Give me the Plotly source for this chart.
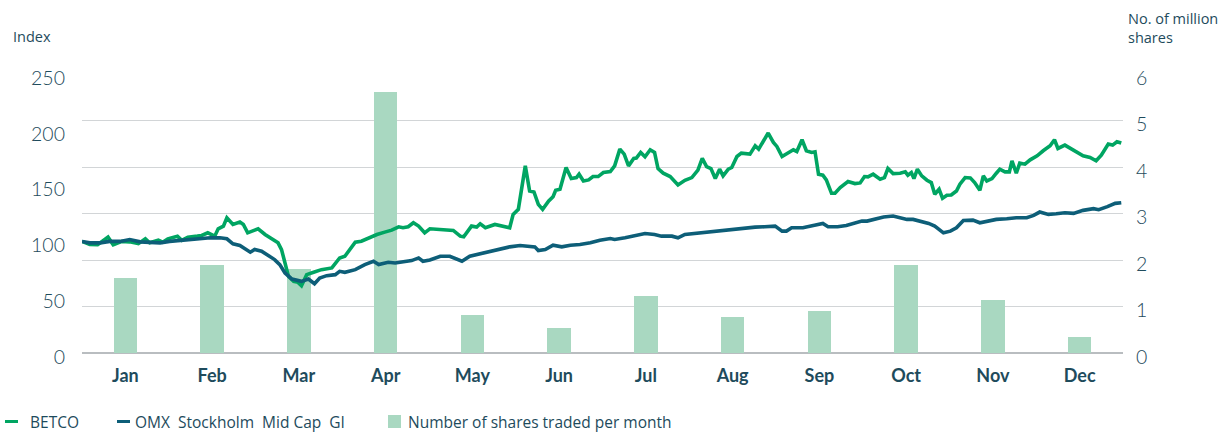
import plotly.graph_objects as go

# Months and monthly traded volume (million shares)
months = ["Jan", "Feb", "Mar", "Apr", "May", "Jun", "Jul", "Aug", "Sep", "Oct", "Nov", "Dec"]
shares_traded = [1.62, 1.89, 1.81, 5.62, 0.82, 0.54, 1.23, 0.78, 0.90, 1.89, 1.14, 0.34]

# BETCO share price index (start of year = 100); time in months since 1 Jan
betco_t = [0.00, 0.09, 0.18, 0.30, 0.36, 0.46, 0.55, 0.65, 0.73, 0.78, 0.88, 0.93, 0.99,
           1.10, 1.15, 1.22, 1.33, 1.38, 1.45, 1.53, 1.57, 1.63, 1.67, 1.74, 1.82, 1.86,
           1.91, 1.97, 2.03, 2.11, 2.19, 2.26, 2.30, 2.34, 2.38, 2.44, 2.49, 2.53, 2.59,
           2.67, 2.76, 2.88, 2.97, 3.03, 3.15, 3.22, 3.34, 3.40, 3.49, 3.57, 3.65, 3.70,
           3.76, 3.82, 3.88, 3.95, 4.01, 4.13, 4.28, 4.36, 4.40, 4.49, 4.55, 4.59, 4.65,
           4.76, 4.84, 4.93, 4.97, 5.03, 5.11, 5.16, 5.21, 5.26, 5.31, 5.38, 5.43, 5.46,
           5.51, 5.58, 5.64, 5.70, 5.73, 5.78, 5.84, 5.89, 5.95, 6.01, 6.09, 6.14, 6.20,
           6.25, 6.30, 6.36, 6.39, 6.44, 6.49, 6.55, 6.60, 6.64, 6.70, 6.78, 6.87, 6.95,
           7.03, 7.10, 7.15, 7.20, 7.25, 7.30, 7.35, 7.39, 7.45, 7.49, 7.55, 7.60, 7.70,
           7.76, 7.80, 7.91, 7.97, 8.01, 8.07, 8.14, 8.20, 8.24, 8.30, 8.35, 8.41, 8.45,
           8.49, 8.54, 8.58, 8.64, 8.68, 8.74, 8.83, 8.91, 8.97, 9.02, 9.06, 9.12, 9.20,
           9.25, 9.29, 9.35, 9.43, 9.49, 9.52, 9.56, 9.59, 9.63, 9.68, 9.74, 9.79, 9.83,
           9.88, 9.92, 9.97, 10.02, 10.08, 10.12, 10.18, 10.24, 10.29, 10.35, 10.39, 10.43,
           10.49, 10.54, 10.58, 10.64, 10.69, 10.72, 10.77, 10.81, 10.87, 10.93, 11.01,
           11.08, 11.16, 11.21, 11.25, 11.33, 11.43, 11.54, 11.62, 11.69, 11.75, 11.83,
           11.88, 11.93, 11.98]
betco = [100.0, 97.2, 97.0, 103.8, 97.0, 100.0, 99.6, 98.0, 102.3, 98.7, 101.0, 99.3, 102.3,
         104.7, 101.0, 103.8, 104.7, 105.3, 107.7, 104.7, 111.3, 113.7, 121.2, 115.2, 117.3, 115.2,
         107.7, 109.2, 111.3, 106.2, 101.7, 98.7, 92.7, 79.2, 68.7, 64.2, 63.3, 60.3, 70.2,
         72.3, 74.7, 76.2, 85.2, 86.7, 99.3, 100.2, 104.7, 106.2, 108.3, 110.1, 113.1, 112.2,
         113.1, 116.7, 113.7, 107.7, 111.3, 110.7, 109.8, 104.7, 104.1, 113.7, 112.8, 115.8, 112.2,
         115.2, 113.7, 112.2, 124.2, 128.7, 167.7, 145.2, 144.3, 133.2, 128.7, 136.2, 140.1, 145.8,
         146.7, 166.2, 156.3, 157.2, 160.2, 154.2, 155.1, 158.1, 158.1, 161.7, 162.6, 167.7, 182.7,
         178.2, 167.7, 174.3, 174.6, 179.7, 175.8, 182.1, 179.7, 165.3, 161.1, 158.1, 150.6, 154.8,
         157.2, 163.8, 174.3, 167.1, 165.3, 156.3, 164.7, 158.7, 164.7, 166.2, 176.1, 179.1, 178.2,
         185.7, 182.7, 197.1, 188.7, 185.1, 176.1, 179.7, 182.1, 180.6, 191.1, 181.2, 179.7, 180.3,
         160.2, 159.3, 155.1, 143.1, 143.1, 148.2, 153.6, 151.8, 152.4, 158.1, 157.8, 160.2, 155.7,
         157.2, 165.3, 160.8, 161.1, 162.3, 159.3, 161.7, 156.3, 164.7, 158.7, 154.8, 152.7, 142.2,
         146.7, 138.6, 141.3, 141.6, 145.2, 151.2, 157.2, 156.9, 152.7, 145.8, 158.7, 154.2,
         156.3, 161.1, 164.7, 162.3, 162.3, 172.2, 161.1, 170.1, 169.2, 173.1, 176.7,
         181.2, 185.7, 191.1, 183.3, 186.3, 181.8, 176.7, 175.2, 172.2, 177.3, 187.2,
         186.3, 189.3, 188.1]

# OMX Stockholm Mid Cap GI index (start of year = 100)
omx_t = [0.00, 0.09, 0.21, 0.32, 0.44, 0.55, 0.67, 0.78, 0.90, 1.01, 1.13, 1.24, 1.36,
         1.48, 1.59, 1.67, 1.74, 1.82, 1.94, 1.99, 2.07, 2.15, 2.22, 2.28, 2.34, 2.42,
         2.47, 2.53, 2.61, 2.68, 2.74, 2.82, 2.92, 2.97, 3.03, 3.15, 3.26, 3.36, 3.42,
         3.53, 3.61, 3.72, 3.80, 3.88, 3.93, 4.01, 4.13, 4.24, 4.32, 4.38, 4.47, 4.59,
         4.70, 4.82, 4.93, 5.05, 5.16, 5.22, 5.26, 5.34, 5.43, 5.53, 5.63, 5.74, 5.86,
         5.97, 6.09, 6.14, 6.26, 6.37, 6.49, 6.60, 6.68, 6.80, 6.87, 6.95, 7.06, 7.18,
         7.29, 7.41, 7.53, 7.64, 7.76, 7.87, 7.99, 8.07, 8.12, 8.18, 8.31, 8.43, 8.54,
         8.60, 8.71, 8.81, 8.89, 8.99, 9.05, 9.12, 9.24, 9.35, 9.43, 9.51, 9.58, 9.66,
         9.76, 9.83, 9.87, 9.93, 10.01, 10.08, 10.16, 10.27, 10.35, 10.43, 10.54, 10.66,
         10.77, 10.89, 10.97, 11.04, 11.14, 11.23, 11.33, 11.43, 11.54, 11.66, 11.72,
         11.82, 11.91, 11.98]
omx = [100.0, 98.7, 98.7, 100.0, 100.0, 101.7, 99.6, 99.3, 98.7, 100.0, 101.0, 101.7, 102.6,
       103.2, 103.2, 102.3, 97.8, 96.3, 90.3, 92.7, 91.2, 86.7, 83.7, 79.2, 71.7, 66.3,
       65.7, 64.2, 66.3, 62.1, 67.2, 69.3, 70.2, 73.2, 72.3, 74.7, 79.2, 82.2, 79.2,
       81.3, 80.7, 82.2, 82.8, 85.2, 82.2, 83.4, 86.7, 86.7, 84.3, 82.2, 86.7, 88.8,
       91.2, 92.7, 95.1, 96.3, 95.7, 95.1, 91.8, 92.7, 96.6, 95.1, 96.6, 97.2, 98.7,
       101.1, 102.6, 101.7, 103.2, 105.3, 107.1, 106.2, 104.7, 104.7, 103.2, 106.2, 107.1, 108.3,
       109.2, 109.8, 110.7, 111.3, 112.8, 113.1, 113.7, 109.2, 109.2, 112.2, 112.2, 114.3, 116.1,
       113.1, 113.1, 114.3, 116.1, 118.2, 118.2, 119.7, 121.8, 122.7, 121.2, 119.7, 119.7, 118.2,
       116.1, 113.7, 111.3, 107.7, 109.2, 112.2, 118.8, 119.1, 116.7, 118.2, 119.7, 120.3,
       121.2, 121.2, 123.3, 126.3, 124.2, 124.8, 125.7, 125.1, 127.8, 129.3, 128.4,
       131.1, 134.1, 134.7]

GREEN = "#00a562"
TEAL = "#0d5e78"
BAR = "#a9d8c1"
TEXT = "#1e4b5c"
GRID = "#d2d5d7"
LABEL_FONT = "Open Sans"
NBSP = "\u00a0"

W, H = 1227, 432
M = dict(l=82, r=104, t=74, b=79)
PLOT_W = W - M["l"] - M["r"]
PLOT_H = H - M["t"] - M["b"]


def px_x(px):
    """Horizontal page pixel -> paper fraction."""
    return (px - M["l"]) / PLOT_W


def px_y(py):
    """Vertical page pixel (from top) -> paper fraction."""
    return (H - M["b"] - py) / PLOT_H


month_pos = [i + 0.5 for i in range(len(months))]

fig = go.Figure()

# Monthly volume bars (primary axis, drawn beneath the index lines)
fig.add_trace(go.Bar(
    x=month_pos, y=shares_traded, width=0.27,
    marker=dict(color=BAR, line=dict(width=0)),
    name="Number of shares traded per month", yaxis="y",
))

# Index lines (secondary axis on the left)
fig.add_trace(go.Scatter(
    x=betco_t, y=betco, mode="lines", line=dict(color=GREEN, width=3.6),
    yaxis="y2", name="BETCO",
))
fig.add_trace(go.Scatter(
    x=omx_t, y=omx, mode="lines", line=dict(color=TEAL, width=3.6),
    yaxis="y2", name="OMX Stockholm Mid Cap GI",
))

# Legend row along the bottom: short dash / square key followed by its label
LEG_Y = 421.5
legend_items = [
    ("line", GREEN, 5, "BETCO", 29),
    ("line", TEAL, 117, f"OMX{NBSP} Stockholm{NBSP} Mid Cap{NBSP} GI", 134),
    ("rect", BAR, 388, "Number of shares traded per month", 407),
]
shapes = []
annotations = []
for kind, color, key_x, label, text_x in legend_items:
    if kind == "line":
        shapes.append(dict(type="line", xref="paper", yref="paper",
                           x0=px_x(key_x), x1=px_x(key_x + 13),
                           y0=px_y(LEG_Y), y1=px_y(LEG_Y),
                           line=dict(color=color, width=3)))
    else:
        shapes.append(dict(type="rect", xref="paper", yref="paper",
                           x0=px_x(key_x), x1=px_x(key_x + 13),
                           y0=px_y(LEG_Y + 6.5), y1=px_y(LEG_Y - 6.5),
                           line=dict(width=0), fillcolor=color))
    annotations.append(dict(text=label, xref="paper", yref="paper",
                            x=px_x(text_x), y=px_y(LEG_Y), xanchor="left", yanchor="middle",
                            showarrow=False, borderpad=0,
                            font=dict(size=15.5, color=TEXT, family=LABEL_FONT)))

# Axis titles
annotations += [
    dict(text="Index", xref="paper", yref="paper", x=px_x(11), y=px_y(37),
         xanchor="left", yanchor="middle", showarrow=False,
         font=dict(size=14.5, color=TEXT, family=LABEL_FONT)),
    dict(text="No. of million<br>shares", xref="paper", yref="paper", x=px_x(1126), y=px_y(28),
         xanchor="left", yanchor="middle", align="left", showarrow=False,
         font=dict(size=14.5, color=TEXT, family=LABEL_FONT)),
]

fig.update_layout(
    width=W, height=H,
    margin=M,
    paper_bgcolor="white", plot_bgcolor="white",
    font=dict(family="Lato", color=TEXT),
    bargap=0,
    showlegend=False,
    xaxis=dict(
        range=[0, 12], tickvals=month_pos, ticktext=months,
        showgrid=False, zeroline=False, showline=False, ticks="",
        tickfont=dict(size=18, color=TEXT, weight="bold"),
        ticklabelstandoff=10,
    ),
    yaxis=dict(
        side="right", range=[0, 6], dtick=1, tickformat="d",
        showgrid=True, gridcolor=GRID, gridwidth=1,
        zeroline=True, zerolinecolor="#b9bdc0", zerolinewidth=2,
        showline=False, ticks="",
        tickfont=dict(size=19.5, color=TEXT, weight=300),
        ticklabelstandoff=12, ticklabelshift=4,
    ),
    yaxis2=dict(
        overlaying="y", side="left", range=[0, 250], dtick=50,
        showgrid=False, zeroline=False, showline=False, ticks="",
        tickfont=dict(size=19.5, color=TEXT, weight=300),
        ticklabelstandoff=16, ticklabelshift=4,
    ),
    shapes=shapes,
    annotations=annotations,
)

fig.write_html("out.html")
